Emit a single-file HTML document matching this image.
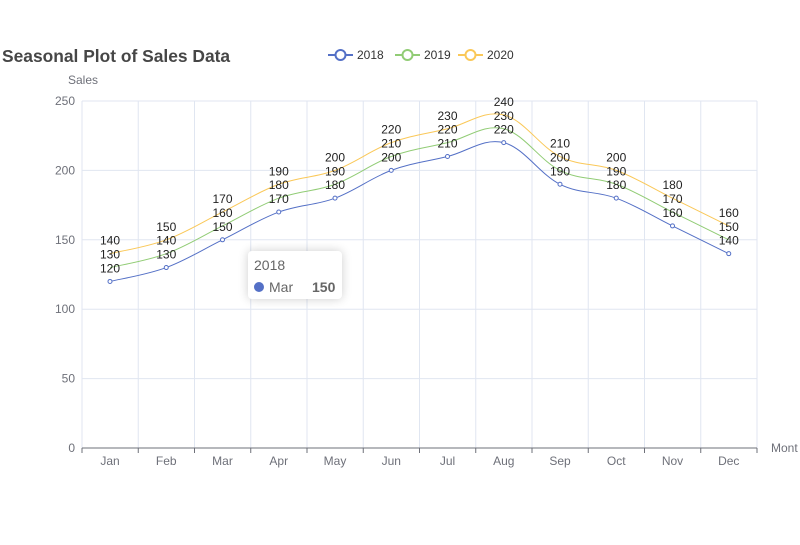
<!DOCTYPE html>
<html><head><meta charset="utf-8"><style>
body{margin:0;background:#fff;width:800px;height:545px;overflow:hidden;font-family:"Liberation Sans",sans-serif}
#tt{position:absolute;left:248px;top:251px;width:94px;height:48px;background:#fff;border-radius:4px;box-shadow:0 0 10px rgba(0,0,0,.2);font-size:14px;color:#666}
</style></head><body>
<svg id="s" width="800" height="545" xmlns="http://www.w3.org/2000/svg" style="position:absolute;left:0;top:0">
<text x="2" y="62" font-size="17.4" font-weight="bold" fill="#464646">Seasonal Plot of Sales Data</text>
<g font-size="12" fill="#333">
<line x1="328" y1="55" x2="353" y2="55" stroke="#5470c6" stroke-width="2"/><circle cx="340.5" cy="55" r="5" fill="#fff" stroke="#5470c6" stroke-width="2"/><text x="357" y="59">2018</text>
<line x1="395" y1="55" x2="420" y2="55" stroke="#91cc75" stroke-width="2"/><circle cx="407.5" cy="55" r="5" fill="#fff" stroke="#91cc75" stroke-width="2"/><text x="424" y="59">2019</text>
<line x1="458" y1="55" x2="483" y2="55" stroke="#fac858" stroke-width="2"/><circle cx="470.5" cy="55" r="5" fill="#fff" stroke="#fac858" stroke-width="2"/><text x="487" y="59">2020</text>
</g>
<text x="68" y="84" font-size="12" fill="#6e7079">Sales</text>
<text x="771" y="452" font-size="12" fill="#6e7079">Mont</text>
<g id="g"></g>
</svg>
<div id="tt"><div style="position:absolute;left:6px;top:6px">2018</div>
<div style="position:absolute;left:6px;top:28px"><span style="display:inline-block;width:10px;height:10px;border-radius:5px;background:#5470c6;margin-right:5px"></span>Mar<b style="position:absolute;left:58px;color:#666">150</b></div></div>
<script>
var g=document.getElementById('g'),h='';
function Y(v){return 448-v*1.388}
function X(i){return 110+56.25*i}
for(var v=0;v<=250;v+=50){h+='<line x1="82" x2="757" y1="'+Y(v)+'" y2="'+Y(v)+'" stroke="#e0e6f1"/>';h+='<text x="75" y="'+(Y(v)+4)+'" font-size="12" fill="#6e7079" text-anchor="end">'+v+'</text>';}
for(var i=0;i<=12;i++){var x=82+56.25*i;h+='<line x1="'+x+'" x2="'+x+'" y1="101" y2="448" stroke="#e0e6f1"/>';h+='<line x1="'+x+'" x2="'+x+'" y1="448" y2="453" stroke="#6e7079"/>';}
h+='<line x1="82" x2="757" y1="448" y2="448" stroke="#6e7079"/>';
var m=['Jan','Feb','Mar','Apr','May','Jun','Jul','Aug','Sep','Oct','Nov','Dec'];
m.forEach(function(t,i){h+='<text x="'+X(i)+'" y="465" font-size="12" fill="#6e7079" text-anchor="middle">'+t+'</text>'});
var b=[120,130,150,170,180,200,210,220,190,180,160,140],c=['#5470c6','#91cc75','#fac858'];
var labels='';
[0,10,20].forEach(function(o,k){
 var p=b.map(function(v,i){return [X(i),Y(v+o),v+o]});
 var d='M'+p[0][0]+','+p[0][1];
 for(var i=0;i<p.length-1;i++){var p0=p[i-1]||p[i],p1=p[i],p2=p[i+1],p3=p[i+2]||p2,t=0.18;
  d+=' C'+(p1[0]+(p2[0]-p0[0])*t)+','+(p1[1]+(p2[1]-p0[1])*t)+' '+(p2[0]-(p3[0]-p1[0])*t)+','+(p2[1]-(p3[1]-p1[1])*t)+' '+p2[0]+','+p2[1];}
 h+='<path d="'+d+'" fill="none" stroke="'+c[k]+'" stroke-width="1"/>';
 p.forEach(function(q){ if(k==0)h+='<circle cx="'+q[0]+'" cy="'+q[1]+'" r="2" fill="#fff" stroke="'+c[0]+'"/>';
  labels+='<text x="'+q[0]+'" y="'+(q[1]-9)+'" font-size="12" fill="#222" text-anchor="middle">'+q[2]+'</text>';});
});
g.innerHTML=h+labels;
</script>
</body></html>
